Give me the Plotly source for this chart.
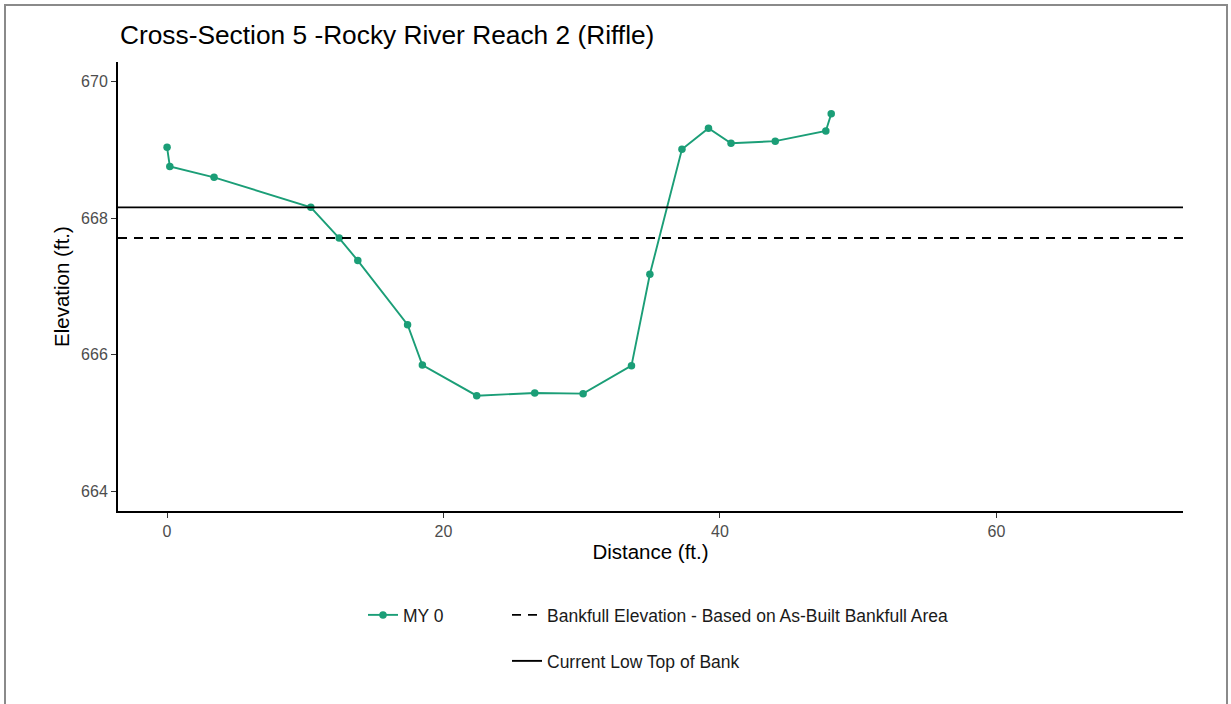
import plotly.graph_objects as go

# Surveyed cross-section points (station, elevation)
distance = [0.0, 0.2, 3.4, 10.4, 12.45, 13.8, 17.4, 18.47, 22.4, 26.6, 30.1,
            33.6, 34.93, 37.25, 39.17, 40.8, 44.0, 47.66, 48.05]
elevation = [669.04, 668.76, 668.60, 668.16, 667.71, 667.38, 666.44, 665.85,
             665.40, 665.44, 665.43, 665.84, 667.18, 669.01, 669.32, 669.10,
             669.13, 669.28, 669.53]

bankfull_elev = 667.71
low_top_of_bank = 668.16

x_range = [-3.55, 73.5]
y_range = [663.71, 670.29]
x_ticks = [0, 20, 40, 60]
y_ticks = [664, 666, 668, 670]

GREEN = "#1b9e77"
FONT = "Liberation Sans, Arial, sans-serif"

fig = go.Figure()

fig.add_trace(go.Scatter(
    x=distance, y=elevation, mode="lines+markers", name="MY 0",
    line=dict(color=GREEN, width=1.9),
    marker=dict(color=GREEN, size=7.5),
    legend="legend", showlegend=True,
))

fig.add_trace(go.Scatter(
    x=x_range, y=[bankfull_elev, bankfull_elev], mode="lines",
    name="Bankfull Elevation - Based on As-Built Bankfull Area",
    line=dict(color="black", width=1.9, dash="9px,7px"),
    legend="legend2", showlegend=True, hoverinfo="skip",
))

fig.add_trace(go.Scatter(
    x=x_range, y=[low_top_of_bank, low_top_of_bank], mode="lines",
    name="Current Low Top of Bank",
    line=dict(color="black", width=1.9),
    legend="legend3", showlegend=True, hoverinfo="skip",
))

L, R, T, B = 118, 48, 62, 193
W, H = 1231, 704
pw, ph = W - L - R, H - T - B


def px_x(p):
    return (p - L) / pw


def px_y(p):
    return (H - B - p) / ph


legend_common = dict(
    orientation="v", xanchor="left", yanchor="middle",
    bgcolor="rgba(0,0,0,0)", font=dict(family=FONT, size=17.5, color="#1a1a1a"),
)

fig.update_layout(
    width=W, height=H,
    margin=dict(l=L, r=R, t=T, b=B),
    paper_bgcolor="white", plot_bgcolor="white",
    font=dict(family=FONT),
    showlegend=True,
    title=dict(
        text="Cross-Section 5 -Rocky River Reach 2 (Riffle)",
        x=120 / W, xref="container", xanchor="left",
        y=1 - 35 / H, yref="container", yanchor="middle",
        font=dict(family=FONT, size=26.3, color="black"),
    ),
    xaxis=dict(
        range=x_range, tickvals=x_ticks, showgrid=False, zeroline=False,
        showline=True, linecolor="black", linewidth=2,
        ticks="outside", ticklen=5, tickwidth=1.2, tickcolor="#333333",
        tickfont=dict(family=FONT, size=16, color="#4d4d4d"),
        title=dict(text="Distance (ft.)", standoff=5,
                   font=dict(family=FONT, size=20.5, color="black")),
    ),
    yaxis=dict(
        range=y_range, tickvals=y_ticks, showgrid=False, zeroline=False,
        showline=True, linecolor="black", linewidth=2,
        ticks="outside", ticklen=5, tickwidth=1.2, tickcolor="#333333",
        tickfont=dict(family=FONT, size=16, color="#4d4d4d"),
        title=dict(text="Elevation (ft.)", standoff=6,
                   font=dict(family=FONT, size=20.5, color="black")),
    ),
    legend=dict(x=px_x(363), y=px_y(615), **legend_common),
    legend2=dict(x=px_x(507), y=px_y(615), **legend_common),
    legend3=dict(x=px_x(507), y=px_y(661), **legend_common),
    shapes=[dict(
        type="rect", xref="paper", yref="paper",
        x0=px_x(5), x1=px_x(1227), y0=px_y(712), y1=px_y(5),
        line=dict(color="#8a8a8a", width=2), fillcolor="rgba(0,0,0,0)",
        layer="above",
    )],
)

fig.write_html("out.html")
